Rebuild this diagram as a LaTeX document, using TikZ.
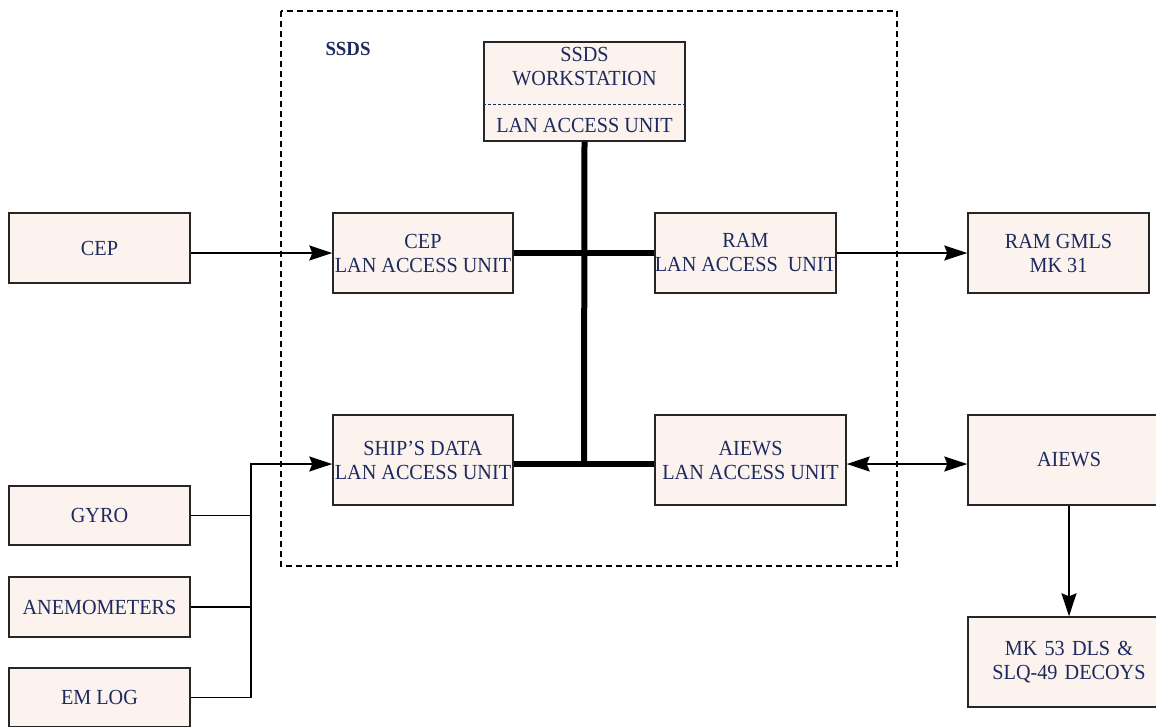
\documentclass[tikz,border=0pt]{standalone}
\usepackage{fontspec}
\setmainfont{Liberation Serif}[FakeStretch=0.94]
\usetikzlibrary{arrows.meta}
\definecolor{navy}{HTML}{1C2A5E}
\definecolor{boxfill}{HTML}{FCF2EE}
\tikzset{
  box/.style={draw=black!85, line width=1.4pt, fill=boxfill, text=navy, align=center,
    inner sep=0pt, font=\fontsize{21.5}{24}\selectfont},
  lbl/.style={text=navy, align=center, inner sep=0pt, font=\fontsize{21.5}{24}\selectfont},
  conn/.style={line width=1.5pt, draw=black},
  bus/.style={line width=6pt, draw=black},
  tip/.style={-{Stealth[length=23pt,width=15pt,inset=3pt]}},
  dtip/.style={{Stealth[length=23pt,width=15pt,inset=3pt]}-{Stealth[length=23pt,width=15pt,inset=3pt]}},
  frame/.style={dashed, dash pattern=on 6pt off 4pt, line width=1.4pt}
}
\begin{document}
\begin{tikzpicture}[x=1pt,y=-1pt]
\useasboundingbox (0,0) rectangle (1156,726);
\clip (0,0) rectangle (1156,726);
% SSDS frame
\draw[frame] (281,11) rectangle (897,566);
\node[text=navy, font=\fontsize{20}{22}\selectfont\bfseries, inner sep=0pt] (ssdslbl) at (348,49) {SSDS};
% workstation
\node[box, minimum width=201pt, minimum height=99pt] (ws) at (584.5,91.5) {};
\draw[dashed, dash pattern=on 3pt off 2pt, draw=navy, line width=1pt] (ws.west |- 0,104) -- (ws.east |- 0,104);
\node[lbl] (wst) at (584.5,67) {SSDS\\WORKSTATION};
\node[lbl] (wsl) at (584.5,125.5) {LAN ACCESS UNIT};
% boxes
\node[box, minimum width=181pt, minimum height=70pt] (cep) at (99.5,248) {CEP};
\node[box, minimum width=180pt, minimum height=80pt] (cepl) at (423,253) {CEP\\LAN ACCESS UNIT};
\node[box, minimum width=181pt, minimum height=80pt] (raml) at (745.5,253) {RAM\\LAN ACCESS~~UNIT};
\node[box, minimum width=181pt, minimum height=80pt] (ram) at (1058.5,253) {RAM GMLS\\MK 31};
\node[box, minimum width=180pt, minimum height=90pt] (shipl) at (423,460) {SHIP'S DATA\\LAN ACCESS UNIT};
\node[box, minimum width=191pt, minimum height=90pt] (aiewsl) at (750.5,460) {AIEWS\\LAN ACCESS UNIT};
\node[box, minimum width=202pt, minimum height=90pt, text width=190pt] (aiews) at (1069,460) {AIEWS};
\node[box, minimum width=202pt, minimum height=90pt, text width=190pt] (mk) at (1069,662) {MK 53 DLS \&\\SLQ-49 DECOYS};
\node[box, minimum width=181pt, minimum height=59pt] (gyro) at (99.5,515.5) {GYRO};
\node[box, minimum width=181pt, minimum height=60pt] (anem) at (99.5,607) {ANEMOMETERS};
\node[box, minimum width=181pt, minimum height=59pt] (emlog) at (99.5,697.5) {EM LOG};
% bus
\coordinate (busb) at (584,464);
\draw[bus] (ws.south) -- (busb);
\draw[bus] (cepl.east) -- (raml.west);
\draw[bus] (shipl.east |- busb) -- (aiewsl.west |- busb);
% connectors
\draw[conn, tip] (cepl.west -| cep.east) -- (cepl.west);
\draw[conn, tip] (raml.east) -- (ram.west);
\coordinate (trunk) at (251,464);
\draw[conn, tip] (emlog.east) -| (trunk) -- (trunk -| shipl.west);
\draw[conn] (gyro.east) -- (gyro.east -| trunk);
\draw[conn] (anem.east) -- (anem.east -| trunk);
\draw[conn, dtip] (aiewsl.east |- busb) -- (aiews.west |- busb);
\draw[conn, tip] (aiews.south) -- (mk.north);
\end{tikzpicture}
\end{document}
